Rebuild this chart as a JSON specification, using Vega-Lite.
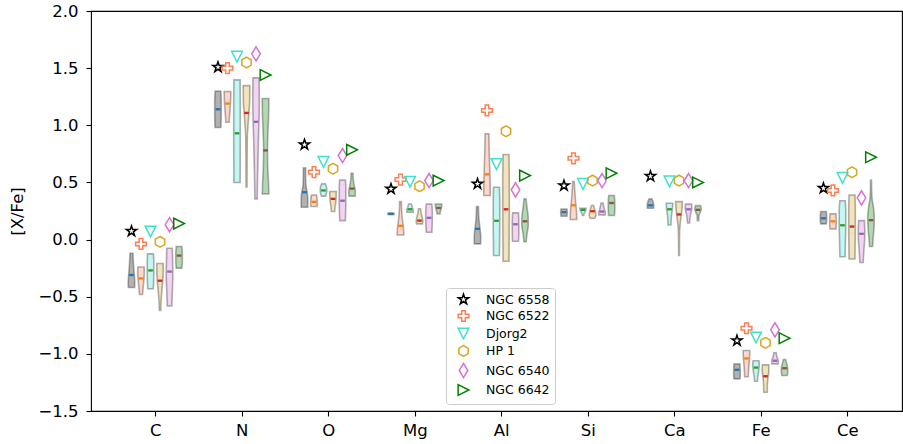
{
  "$schema": "https://vega.github.io/schema/vega-lite/v6.json",
  "width": 811,
  "height": 400,
  "autosize": {"type": "none"},
  "padding": {"left": 91, "top": 11, "right": 1, "bottom": 33},
  "background": "white",
  "config": {
    "font": "DejaVu Sans",
    "view": {"stroke": "black", "strokeWidth": 1.1},
    "axis": {"grid": false, "domain": false, "tickColor": "black", "tickSize": 5, "tickWidth": 1.1, "labelColor": "black", "labelFont": "DejaVu Sans", "labelFontSize": 16.5, "titleFont": "DejaVu Sans", "titleFontSize": 16.5, "titleFontWeight": "normal", "titleColor": "black"},
    "legend": {"orient": "none", "legendX": 355, "legendY": 277, "fillColor": "white", "strokeColor": "#cccccc", "cornerRadius": 3, "padding": 5, "symbolOffset": 6, "labelOffset": 16, "rowPadding": 0.5, "labelFontSize": 12.5, "labelFont": "DejaVu Sans", "labelColor": "black", "symbolStrokeWidth": 1.5, "symbolSize": 115, "labelLimit": 300}
  },
  "datasets": {
    "v": [
      {"el":"C","cl":"NGC 6558","mk":0.073,"med":-0.31,"ys":[-0.12,-0.18,-0.25,-0.32,-0.38,-0.42],"ds":[0.45,0.55,0.7,0.9,1.0,0.95]},
      {"el":"C","cl":"NGC 6522","mk":-0.038,"med":-0.34,"ys":[-0.24,-0.30,-0.36,-0.42,-0.48],"ds":[0.95,1.0,0.85,0.65,0.45]},
      {"el":"C","cl":"Djorg2","mk":0.07,"med":-0.27,"ys":[-0.125,-0.2,-0.28,-0.36,-0.43],"ds":[0.9,1.0,1.0,0.95,0.85]},
      {"el":"C","cl":"HP 1","mk":-0.02,"med":-0.36,"ys":[-0.21,-0.27,-0.35,-0.45,-0.55,-0.62],"ds":[0.95,1.0,0.85,0.55,0.3,0.2]},
      {"el":"C","cl":"NGC 6540","mk":0.13,"med":-0.28,"ys":[-0.076,-0.2,-0.32,-0.45,-0.58],"ds":[0.85,0.95,1.0,0.85,0.7]},
      {"el":"C","cl":"NGC 6642","mk":0.14,"med":-0.14,"ys":[-0.06,-0.12,-0.19,-0.25],"ds":[0.85,1.0,1.0,0.85]},
      {"el":"N","cl":"NGC 6558","mk":1.508,"med":1.14,"ys":[1.30,1.22,1.10,0.98],"ds":[0.85,1.0,1.0,0.9]},
      {"el":"N","cl":"NGC 6522","mk":1.50,"med":1.19,"ys":[1.295,1.22,1.15,1.08,1.026],"ds":[1.0,0.95,0.8,0.6,0.5]},
      {"el":"N","cl":"Djorg2","mk":1.60,"med":0.93,"ys":[1.397,1.2,0.95,0.7,0.5],"ds":[0.95,1.0,1.0,0.98,0.95]},
      {"el":"N","cl":"HP 1","mk":1.55,"med":1.108,"ys":[1.347,1.2,1.1,1.0,0.9,0.7,0.46],"ds":[1.0,0.95,0.7,0.45,0.25,0.18,0.15]},
      {"el":"N","cl":"NGC 6540","mk":1.625,"med":1.03,"ys":[1.415,1.2,0.9,0.6,0.356],"ds":[0.95,1.0,0.75,0.5,0.35]},
      {"el":"N","cl":"NGC 6642","mk":1.44,"med":0.78,"ys":[1.234,1.1,0.95,0.8,0.65,0.5,0.40],"ds":[1.0,0.95,0.75,0.6,0.65,0.9,1.0]},
      {"el":"O","cl":"NGC 6558","mk":0.83,"med":0.414,"ys":[0.627,0.55,0.47,0.42,0.36,0.283],"ds":[0.35,0.35,0.45,0.8,1.0,1.0]},
      {"el":"O","cl":"NGC 6522","mk":0.59,"med":0.33,"ys":[0.39,0.35,0.31,0.29],"ds":[0.75,0.95,1.0,0.95]},
      {"el":"O","cl":"Djorg2","mk":0.68,"med":0.43,"ys":[0.487,0.46,0.43,0.40,0.38],"ds":[0.55,0.9,1.0,0.85,0.6]},
      {"el":"O","cl":"HP 1","mk":0.62,"med":0.356,"ys":[0.42,0.37,0.32,0.28,0.245],"ds":[1.0,0.95,0.8,0.6,0.5]},
      {"el":"O","cl":"NGC 6540","mk":0.735,"med":0.34,"ys":[0.52,0.45,0.35,0.25,0.166],"ds":[0.9,1.0,1.0,0.95,0.85]},
      {"el":"O","cl":"NGC 6642","mk":0.785,"med":0.446,"ys":[0.58,0.52,0.47,0.42,0.38],"ds":[0.3,0.4,0.7,1.0,0.95]},
      {"el":"Mg","cl":"NGC 6558","mk":0.443,"med":0.225,"ys":[0.232,0.225,0.218],"ds":[0.9,1.0,0.9]},
      {"el":"Mg","cl":"NGC 6522","mk":0.525,"med":0.12,"ys":[0.332,0.25,0.17,0.10,0.04],"ds":[0.25,0.35,0.6,0.9,1.0]},
      {"el":"Mg","cl":"Djorg2","mk":0.506,"med":0.265,"ys":[0.31,0.28,0.255,0.24],"ds":[0.45,0.7,1.0,0.95]},
      {"el":"Mg","cl":"HP 1","mk":0.466,"med":0.166,"ys":[0.27,0.23,0.19,0.16,0.137],"ds":[0.3,0.5,0.85,1.0,0.9]},
      {"el":"Mg","cl":"NGC 6540","mk":0.516,"med":0.19,"ys":[0.31,0.25,0.19,0.12,0.064],"ds":[0.85,1.0,1.0,0.95,0.85]},
      {"el":"Mg","cl":"NGC 6642","mk":0.516,"med":0.277,"ys":[0.31,0.28,0.25,0.225],"ds":[1.0,0.9,0.6,0.45]},
      {"el":"Al","cl":"NGC 6558","mk":0.487,"med":0.094,"ys":[0.29,0.22,0.15,0.08,0.02,-0.038],"ds":[0.3,0.35,0.55,0.85,1.0,0.95]},
      {"el":"Al","cl":"NGC 6522","mk":1.13,"med":0.571,"ys":[0.925,0.8,0.65,0.5,0.385],"ds":[0.55,0.65,0.8,0.95,1.0]},
      {"el":"Al","cl":"Djorg2","mk":0.66,"med":0.164,"ys":[0.458,0.3,0.15,0.0,-0.14],"ds":[0.9,1.0,1.0,0.95,0.9]},
      {"el":"Al","cl":"HP 1","mk":0.948,"med":0.265,"ys":[0.744,0.5,0.25,0.0,-0.19],"ds":[0.9,1.0,1.0,0.95,0.9]},
      {"el":"Al","cl":"NGC 6540","mk":0.435,"med":0.134,"ys":[0.234,0.15,0.05,-0.015],"ds":[0.9,1.0,1.0,0.9]},
      {"el":"Al","cl":"NGC 6642","mk":0.56,"med":0.16,"ys":[0.356,0.28,0.2,0.13,0.05,-0.018],"ds":[0.3,0.6,0.95,1.0,0.6,0.35]},
      {"el":"Si","cl":"NGC 6558","mk":0.472,"med":0.24,"ys":[0.268,0.24,0.204],"ds":[0.9,1.0,0.9]},
      {"el":"Si","cl":"NGC 6522","mk":0.711,"med":0.30,"ys":[0.507,0.42,0.33,0.25,0.175],"ds":[0.25,0.4,0.65,0.9,1.0]},
      {"el":"Si","cl":"Djorg2","mk":0.487,"med":0.26,"ys":[0.274,0.25,0.23,0.21],"ds":[1.0,0.75,0.4,0.2]},
      {"el":"Si","cl":"HP 1","mk":0.516,"med":0.248,"ys":[0.297,0.27,0.24,0.21,0.186],"ds":[0.35,0.6,0.9,1.0,0.7]},
      {"el":"Si","cl":"NGC 6540","mk":0.516,"med":0.245,"ys":[0.32,0.29,0.26,0.235,0.216],"ds":[0.3,0.5,0.75,1.0,0.95]},
      {"el":"Si","cl":"NGC 6642","mk":0.58,"med":0.32,"ys":[0.385,0.33,0.27,0.21],"ds":[0.85,1.0,1.0,0.9]},
      {"el":"Ca","cl":"NGC 6558","mk":0.554,"med":0.30,"ys":[0.356,0.33,0.30,0.274],"ds":[0.45,0.8,1.0,0.95]},
      {"el":"Ca","cl":"Djorg2","mk":0.509,"med":0.265,"ys":[0.318,0.27,0.22,0.17,0.128],"ds":[1.0,0.9,0.65,0.5,0.45]},
      {"el":"Ca","cl":"HP 1","mk":0.516,"med":0.22,"ys":[0.332,0.28,0.22,0.15,0.08,0.0,-0.14],"ds":[1.0,0.95,0.7,0.4,0.2,0.15,0.12]},
      {"el":"Ca","cl":"NGC 6540","mk":0.516,"med":0.265,"ys":[0.31,0.27,0.22,0.18,0.146],"ds":[0.95,1.0,0.6,0.4,0.3]},
      {"el":"Ca","cl":"NGC 6642","mk":0.50,"med":0.26,"ys":[0.297,0.27,0.24,0.21,0.166],"ds":[0.8,1.0,0.7,0.3,0.2]},
      {"el":"Fe","cl":"NGC 6558","mk":-0.884,"med":-1.14,"ys":[-1.088,-1.14,-1.19,-1.219],"ds":[0.9,1.0,1.0,0.9]},
      {"el":"Fe","cl":"NGC 6522","mk":-0.776,"med":-1.04,"ys":[-0.97,-1.03,-1.10,-1.16,-1.20],"ds":[1.0,0.95,0.75,0.6,0.55]},
      {"el":"Fe","cl":"Djorg2","mk":-0.857,"med":-1.12,"ys":[-1.06,-1.10,-1.16,-1.21,-1.24],"ds":[0.9,1.0,0.75,0.5,0.45]},
      {"el":"Fe","cl":"HP 1","mk":-0.904,"med":-1.196,"ys":[-1.096,-1.15,-1.22,-1.29,-1.336],"ds":[0.95,1.0,0.7,0.55,0.55]},
      {"el":"Fe","cl":"NGC 6540","mk":-0.79,"med":-1.06,"ys":[-0.99,-1.03,-1.06,-1.088],"ds":[0.35,0.6,1.0,0.95]},
      {"el":"Fe","cl":"NGC 6642","mk":-0.863,"med":-1.126,"ys":[-1.05,-1.09,-1.13,-1.17,-1.19],"ds":[0.35,0.7,1.0,0.95,0.8]},
      {"el":"Ce","cl":"NGC 6558","mk":0.449,"med":0.186,"ys":[0.245,0.19,0.137],"ds":[0.85,1.0,0.85]},
      {"el":"Ce","cl":"NGC 6522","mk":0.43,"med":0.16,"ys":[0.225,0.16,0.094],"ds":[0.9,1.0,0.9]},
      {"el":"Ce","cl":"Djorg2","mk":0.54,"med":0.125,"ys":[0.34,0.25,0.12,0.0,-0.15],"ds":[0.8,1.0,1.0,0.9,0.8]},
      {"el":"Ce","cl":"HP 1","mk":0.589,"med":0.114,"ys":[0.39,0.25,0.1,-0.05,-0.17],"ds":[0.9,1.0,1.0,0.95,0.9]},
      {"el":"Ce","cl":"NGC 6540","mk":0.365,"med":0.05,"ys":[0.166,0.08,0.0,-0.1,-0.2],"ds":[0.85,1.0,0.95,0.7,0.5]},
      {"el":"Ce","cl":"NGC 6642","mk":0.72,"med":0.17,"ys":[0.52,0.42,0.35,0.28,0.2,0.1,0.0,-0.06],"ds":[0.15,0.2,0.35,0.75,1.0,0.9,0.6,0.45]}
    ]
  },
  "data": {"name": "v"},
  "transform": [
    {"calculate": "indexof(['C','N','O','Mg','Al','Si','Ca','Fe','Ce'], datum.el) + (indexof(['NGC 6558','NGC 6522','Djorg2','HP 1','NGC 6540','NGC 6642'], datum.cl) - 2.5) * 0.11", "as": "c"},
    {"calculate": "datum.cl", "as": "grp"}
  ],
  "layer": [
    {
      "transform": [
        {"flatten": ["ys", "ds"]},
        {"calculate": "datum.c - datum.ds * 0.038", "as": "xl"},
        {"calculate": "datum.c + datum.ds * 0.038", "as": "xr"}
      ],
      "mark": {"type": "area", "orient": "horizontal", "interpolate": "monotone", "fillOpacity": 0.3, "stroke": "black", "strokeOpacity": 0.3, "strokeWidth": 1.6},
      "encoding": {
        "y": {"field": "ys", "type": "quantitative", "scale": {"domain": [-1.5, 2.0], "nice": false, "zero": false}, "axis": {"values": [-1.5, -1.0, -0.5, 0.0, 0.5, 1.0, 1.5, 2.0], "format": ".1f", "labelPadding": 8, "title": "[X/Fe]", "titlePadding": 12}},
        "x": {"field": "xl", "type": "quantitative", "scale": {"domain": [-0.743, 8.633], "nice": false, "zero": false}, "axis": {"values": [0, 1, 2, 3, 4, 5, 6, 7, 8], "labelExpr": "['C','N','O','Mg','Al','Si','Ca','Fe','Ce'][datum.value]", "labelPadding": 6, "title": null}},
        "x2": {"field": "xr"},
        "fill": {"field": "grp", "type": "nominal", "scale": {"range": ["#40E0D0", "#DAA520", "#FF7F50", "#DA70D6", "#000000", "#008000"]}, "legend": null},
        "detail": {"field": "el"}
      }
    },
    {
      "mark": {"type": "point", "filled": true, "opacity": 1, "size": 22, "shape": "M-1,-0.5L1,-0.5L1,0.5L-1,0.5Z"},
      "encoding": {
        "x": {"field": "c", "type": "quantitative"},
        "y": {"field": "med", "type": "quantitative"},
        "color": {"field": "grp", "type": "nominal", "scale": {"range": ["#2ca02c", "#d62728", "#ff7f0e", "#9467bd", "#1f77b4", "#8c564b"]}, "legend": null}
      }
    },
    {
      "mark": {"type": "point", "filled": false, "opacity": 1, "size": 115, "strokeWidth": 1.5},
      "encoding": {
        "x": {"field": "c", "type": "quantitative"},
        "y": {"field": "mk", "type": "quantitative"},
        "shape": {"field": "cl", "type": "nominal", "title": null, "scale": {"domain": ["NGC 6558", "NGC 6522", "Djorg2", "HP 1", "NGC 6540", "NGC 6642"], "range": [
          "M0,-1L0.225,-0.309L0.951,-0.309L0.363,0.118L0.588,0.809L0,0.382L-0.588,0.809L-0.363,0.118L-0.951,-0.309L-0.225,-0.309Z",
          "M-0.333,-1L0.333,-1L0.333,-0.333L1,-0.333L1,0.333L0.333,0.333L0.333,1L-0.333,1L-0.333,0.333L-1,0.333L-1,-0.333L-0.333,-0.333Z",
          "M-1,-1L1,-1L0,1Z",
          "M0,-1L0.866,-0.5L0.866,0.5L0,1L-0.866,0.5L-0.866,-0.5Z",
          "M0,-1.32L0.8,0L0,1.32L-0.8,0Z",
          "M-1,-1L1,0L-1,1Z"
        ]}},
        "stroke": {"field": "cl", "type": "nominal", "title": null, "scale": {"domain": ["NGC 6558", "NGC 6522", "Djorg2", "HP 1", "NGC 6540", "NGC 6642"], "range": ["#000000", "#FF7F50", "#40E0D0", "#DAA520", "#DA70D6", "#008000"]}}
      }
    }
  ]
}
